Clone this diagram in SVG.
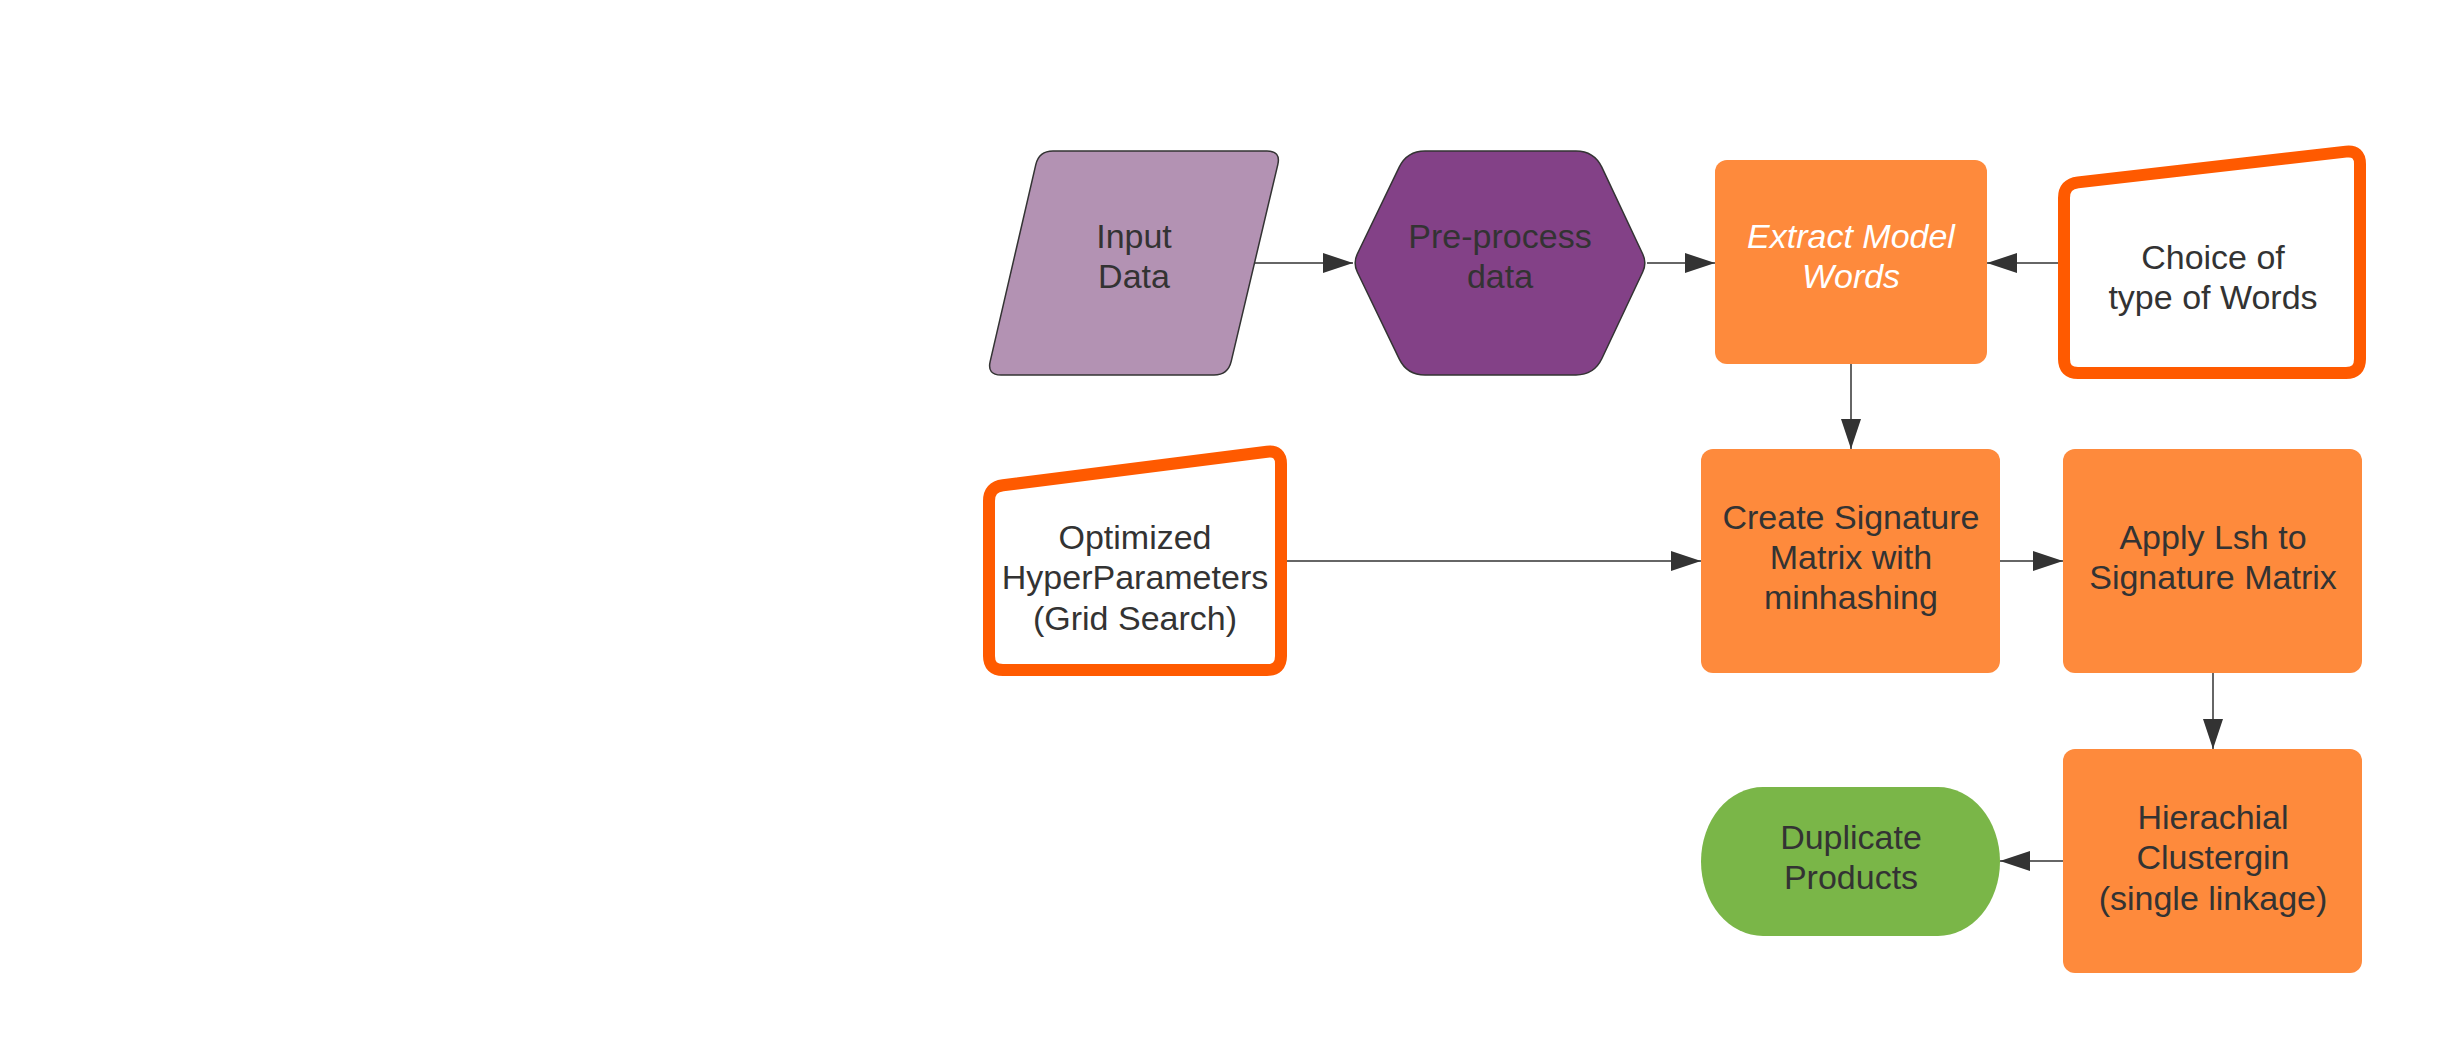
<svg xmlns="http://www.w3.org/2000/svg" width="2438" height="1050" viewBox="0 0 2438 1050">
<style>
.t{font-family:"Liberation Sans",Arial,sans-serif;font-size:34px;fill:#333333;text-anchor:middle}
.w{fill:#ffffff;font-style:italic}
.box{fill:#fe8a3c}
.man{fill:#ffffff;stroke:#ff5a00;stroke-width:12;stroke-linejoin:round}
.c{fill:none;stroke:#333333;stroke-width:1.5}
</style>
<defs>
<marker id="ah" viewBox="0 0 30 20" refX="30" refY="10" markerWidth="30" markerHeight="20" markerUnits="userSpaceOnUse" orient="auto">
<path d="M0,0 L30,10 L0,20 Z" fill="#333333"/>
</marker>
</defs>
<rect width="2438" height="1050" fill="#ffffff"/>
<g id="connectors">
<path class="c" d="M1255,263 H1353" marker-end="url(#ah)"/>
<path class="c" d="M1647,263 H1715" marker-end="url(#ah)"/>
<path class="c" d="M2058,263 H1987" marker-end="url(#ah)"/>
<path class="c" d="M1851,364 V449" marker-end="url(#ah)"/>
<path class="c" d="M1287,561 H1701" marker-end="url(#ah)"/>
<path class="c" d="M2000,561 H2063" marker-end="url(#ah)"/>
<path class="c" d="M2213,673 V749" marker-end="url(#ah)"/>
<path class="c" d="M2063,861 H2000" marker-end="url(#ah)"/>
</g>
<g id="input-data">
<path d="M1053,151 L1267,151 Q1281,151 1277.8,164.6 L1231.2,361.4 Q1228,375 1214,375 L1001,375 Q987,375 990.2,361.4 L1035.8,164.6 Q1039,151 1053,151 Z" fill="#b392b3" stroke="#333333" stroke-width="1.5"/>
<text class="t" x="1134" y="248">Input</text>
<text class="t" x="1134" y="288">Data</text>
</g>
<g id="preprocess">
<path d="M1425,151 L1576,151 Q1594,151 1601.8,167.2 L1642.7,254 Q1647,263 1642.7,272 L1601.8,358.8 Q1594,375 1576,375 L1425,375 Q1407,375 1399.2,358.8 L1357.3,272 Q1353,263 1357.3,254 L1399.2,167.2 Q1407,151 1425,151 Z" fill="#834187" stroke="#333333" stroke-width="1.5"/>
<text class="t" x="1500" y="248">Pre-process</text>
<text class="t" x="1500" y="288">data</text>
</g>
<g id="extract">
<rect class="box" x="1715" y="160" width="272" height="204" rx="12"/>
<text class="t w" x="1851" y="248">Extract Model</text>
<text class="t w" x="1851" y="288">Words</text>
</g>
<g id="choice">
<path class="man" d="M2064,198 Q2064,184 2078,182.4 L2346,151.6 Q2360,150 2360,164 L2360,359 Q2360,373 2346,373 L2078,373 Q2064,373 2064,359 Z"/>
<text class="t" x="2213" y="269">Choice of</text>
<text class="t" x="2213" y="309">type of Words</text>
</g>
<g id="optimized">
<path class="man" d="M989,501 Q989,487 1003,485.3 L1267,451.7 Q1281,450 1281,464 L1281,656 Q1281,670 1267,670 L1003,670 Q989,670 989,656 Z"/>
<text class="t" x="1135" y="549">Optimized</text>
<text class="t" x="1135" y="589">HyperParameters</text>
<text class="t" x="1135" y="630">(Grid Search)</text>
</g>
<g id="signature">
<rect class="box" x="1701" y="449" width="299" height="224" rx="12"/>
<text class="t" x="1851" y="529">Create Signature</text>
<text class="t" x="1851" y="569">Matrix with</text>
<text class="t" x="1851" y="609">minhashing</text>
</g>
<g id="lsh">
<rect class="box" x="2063" y="449" width="299" height="224" rx="12"/>
<text class="t" x="2213" y="549">Apply Lsh to</text>
<text class="t" x="2213" y="589">Signature Matrix</text>
</g>
<g id="hierarchical">
<rect class="box" x="2063" y="749" width="299" height="224" rx="12"/>
<text class="t" x="2213" y="829">Hierachial</text>
<text class="t" x="2213" y="869">Clustergin</text>
<text class="t" x="2213" y="910">(single linkage)</text>
</g>
<g id="duplicates">
<rect x="1701" y="787" width="299" height="149" rx="62" ry="74.5" fill="#7ab648"/>
<text class="t" x="1851" y="849">Duplicate</text>
<text class="t" x="1851" y="889">Products</text>
</g>
</svg>
